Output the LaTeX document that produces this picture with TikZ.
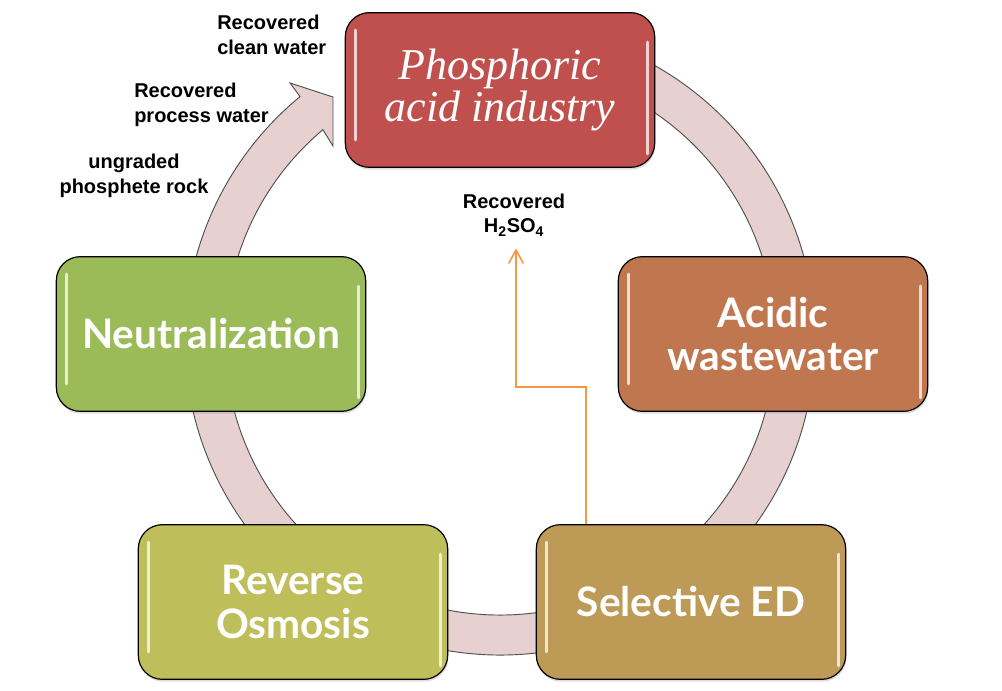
\documentclass[tikz,border=0pt]{standalone}
\usepackage{fontspec}
\newfontfamily\lblfont{Liberation Sans}
\newfontfamily\boxfont{Lato}
\newfontfamily\indfont{Liberation Serif}
\usetikzlibrary{calc,arrows.meta,shadows}
\definecolor{cP}{RGB}{192,80,77}
\definecolor{cA}{RGB}{192,119,80}
\definecolor{cS}{RGB}{189,154,85}
\definecolor{cR}{RGB}{190,190,90}
\definecolor{cN}{RGB}{155,187,89}
\definecolor{ringfill}{RGB}{231,208,208}
\definecolor{ringline}{RGB}{80,80,80}
\definecolor{org}{RGB}{247,150,70}
\newcommand\glossy[1]{%
  \draw[gloss] ($(#1.north west)+(11,18)$) -- ($(#1.south west)+(11,-28)$);
  \draw[gloss] ($(#1.north east)+(-8,30)$) -- ($(#1.south east)+(-8,-14)$);}
\begin{document}
\begin{tikzpicture}[x=0.75pt,y=-0.75pt,
  procbox/.style={draw=black, line width=0.9pt, rounded corners=18pt,
    minimum width=232pt, minimum height=116pt, inner sep=0pt, text=white,
    align=center, drop shadow={opacity=0.25, shadow xshift=0.6pt, shadow yshift=-1.8pt}},
  boxtext/.style={font=\boxfont\bfseries\fontsize{30.5}{32.5}\selectfont},
  lbl/.style={font=\lblfont\bfseries\fontsize{15}{18.5}\selectfont, inner sep=0pt},
  gloss/.style={white, opacity=0.75, line width=2pt, line cap=round},
  flow/.style={org, line width=1.2pt, -{Straight Barb[length=10pt,width=11pt]}}
  ]
\useasboundingbox (0,0) rectangle (1002,691);
\fill[white] (0,0) rectangle (1002,691);
% cycle ring
\coordinate (c) at (500,340);
\path[fill=ringfill, draw=ringline, line width=0.7pt]
  ($(c)+(-80:315)$) arc[start angle=-80, end angle=230.6, radius=315]
  -- (290,83) -- (333,97) -- (333,146) -- (322.9,129.7)
  arc[start angle=229.9, end angle=-80, radius=275] -- cycle;
% process boxes
\node[procbox, fill=cP, font=\indfont\itshape\fontsize{33}{32}\selectfont] (P) at (500,90) {Phosphoric\\acid industry};
\node[procbox, fill=cA, boxtext] (A) at (773,334) {Acidic\\wastewater};
\node[procbox, fill=cS, boxtext] (S) at (691,602) {Selective ED};
\node[procbox, fill=cR, boxtext] (R) at (293,602) {Reverse\\Osmosis};
\node[procbox, fill=cN, boxtext] (N) at (211,334) {Neutralization};
\glossy{P}\glossy{A}\glossy{S}\glossy{R}\glossy{N}
% labels
\node[lbl, align=left, anchor=west] (L1) at (217,35) {Recovered\\clean water};
\node[lbl, align=left, anchor=west] (L2) at (134,105) {Recovered\\process water};
\node[lbl, align=center] (L3) at (134,176) {ungraded\\phosphete rock};
\node[lbl, align=center] (H) at (514,215) {Recovered\\H\textsubscript{2}SO\textsubscript{4}};
% recovered acid flow
\coordinate (sx) at (586,0);
\draw[flow] (S.north -| sx) -- (586,387) -| ($(H.south)+(2,12)$);
\end{tikzpicture}
\end{document}
